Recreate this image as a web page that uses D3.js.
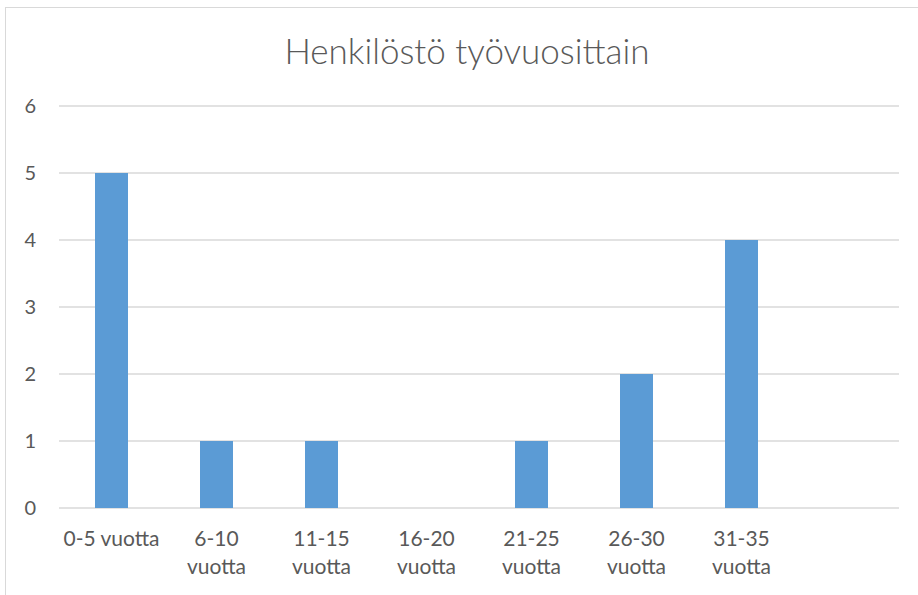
<html>
<head>
  <meta charset="utf-8">
  <script src="https://d3js.org/d3.v7.min.js"></script>
  <style>
    body { margin: 0; background: #fff; }
    text { font-family: Lato, "Open Sans", sans-serif; fill: #595959; }
  </style>
  <script>
    var title = "Henkilöstö työvuosittain";
    var categories = ["0-5", "6-10", "11-15", "16-20", "21-25", "26-30", "31-35", ""];
    var tickLines = [["0-5 vuotta"], ["6-10", "vuotta"], ["11-15", "vuotta"], ["16-20", "vuotta"],
                     ["21-25", "vuotta"], ["26-30", "vuotta"], ["31-35", "vuotta"], []];
    var values = [5, 1, 1, 0, 1, 2, 4, null];
    var yTicks = [0, 1, 2, 3, 4, 5, 6];

    function makeChart() {
      var svg = d3.select("#chart");

      // chart frame (only left and top edges are visible, the rest is cropped)
      svg.append("rect").attr("x", 5.5).attr("y", 7.5)
        .attr("width", 1000).attr("height", 1000)
        .attr("fill", "none").attr("stroke", "#d9d9d9");

      var x = d3.scaleBand().domain(categories).range([59, 899]).paddingInner(0).paddingOuter(0);
      var y = d3.scaleLinear().domain([0, 6]).range([508, 106]);
      var barW = 33;

      svg.append("text").attr("x", 467).attr("y", 64)
        .attr("text-anchor", "middle").style("font-size", "35px").style("font-weight", 300)
        .text(title);

      // gridlines
      svg.append("g").selectAll("line").data(yTicks).enter()
        .append("line")
        .attr("x1", 59).attr("x2", 899)
        .attr("y1", d => y(d)).attr("y2", d => y(d))
        .attr("stroke", "#d9d9d9").attr("stroke-width", 1.3);

      // y labels
      svg.append("g").selectAll("text").data(yTicks).enter()
        .append("text")
        .attr("x", 36).attr("y", d => y(d) + 7)
        .attr("text-anchor", "end").style("font-size", "20px")
        .text(d => d);

      // bars
      var bd = categories.map((c, i) => ({ c: c, v: values[i] })).filter(d => d.v);
      svg.append("g").selectAll("rect").data(bd).enter()
        .append("rect")
        .attr("x", d => x(d.c) + x.bandwidth() / 2 - barW / 2)
        .attr("width", barW)
        .attr("y", d => y(d.v))
        .attr("height", d => y(0) - y(d.v))
        .attr("fill", "#5b9bd5");

      // x labels
      var g = svg.append("g").selectAll("text").data(categories).enter()
        .append("text")
        .attr("x", d => x(d) + x.bandwidth() / 2)
        .attr("text-anchor", "middle").style("font-size", "21px");
      g.selectAll("tspan").data((d, i) => tickLines[i]).enter()
        .append("tspan")
        .attr("x", function() { return this.parentNode.getAttribute("x"); })
        .attr("y", (d, j) => 546 + j * 28)
        .text(d => d);
    }
  </script>
</head>
<body onload="makeChart()">
  <svg id="chart" width="918" height="595"></svg>
</body>
</html>
